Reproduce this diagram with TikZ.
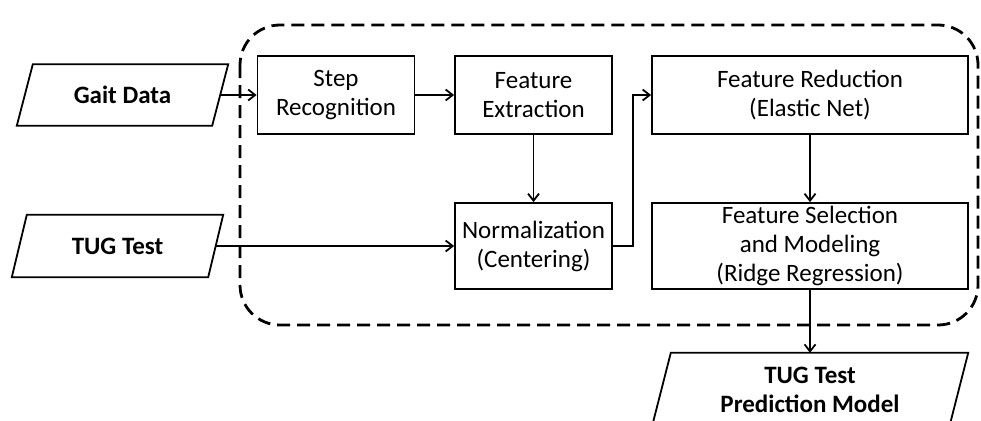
\documentclass[tikz,border=0pt]{standalone}
\usepackage{fontspec}
\setmainfont{Carlito}
\usetikzlibrary{arrows.meta}
\begin{document}
\begin{tikzpicture}[x=1pt,y=-1pt,
  every node/.style={font=\fontsize{25}{29}\selectfont, inner sep=0pt},
  proc/.style={draw, line width=1.8pt, align=center},
  io/.style={align=center, font=\fontsize{25}{29}\selectfont\bfseries},
  ioline/.style={line width=1.8pt, line join=miter},
  arr/.style={line width=1.8pt, -{Straight Barb[length=7pt,width=11pt,line width=1.8pt]}},
  frame/.style={line width=2.8pt, dash pattern=on 13pt off 7pt, rounded corners=40pt}]
\clip (0,0) rectangle (981,420);

% pipeline boundary
\draw[frame] (240,25) rectangle (978,325);

% inputs (text boxes, outlined as slanted parallelograms)
\node[io, minimum width=211pt, minimum height=61pt] (gait) at (122.5,95) {Gait Data};
\draw[ioline] (gait.south west) -- ([xshift=16pt]gait.north west) -- (gait.north east)
  -- ([xshift=-16pt]gait.south east) -- cycle;
\node[io, minimum width=211pt, minimum height=62pt] (tug) at (117.5,246) {TUG Test};
\draw[ioline] (tug.south west) -- ([xshift=15pt]tug.north west) -- (tug.north east)
  -- ([xshift=-15pt]tug.south east) -- cycle;

% processing steps
\node[proc, minimum width=157pt, minimum height=78pt] (step) at (336,95) {Step\\Recognition};
\node[proc, minimum width=157pt, minimum height=78pt] (extr) at (533.5,95) {Feature\\Extraction};
\node[proc, minimum width=157pt, minimum height=86pt] (norm) at (533.5,246) {Normalization\\(Centering)};
\node[proc, minimum width=316pt, minimum height=78pt] (red) at (810,95) {Feature Reduction\\(Elastic Net)};
\node[proc, minimum width=316pt, minimum height=86pt] (sel) at (810,246) {Feature Selection\\and Modeling\\(Ridge Regression)};

% output
\node[io, minimum width=316pt, minimum height=74pt] (pred) at (810,390) {TUG Test\\Prediction Model};
\draw[ioline] (pred.south west) -- ([xshift=19pt]pred.north west) -- (pred.north east)
  -- ([xshift=-19pt]pred.south east) -- cycle;

% connectors
\draw[arr] ([xshift=-8pt]gait.east) -- (step.west);
\draw[arr] (step.east) -- (extr.west);
\draw[arr] (extr.south) -- (norm.north);
\draw[arr] ([xshift=-7.5pt]tug.east) -- (norm.west);
\draw[arr] (norm.east) -- ([xshift=20pt]norm.east) |- (red.west);
\draw[arr] (red.south) -- (sel.north);
\draw[arr] (sel.south) -- (pred.north);
\end{tikzpicture}
\end{document}
